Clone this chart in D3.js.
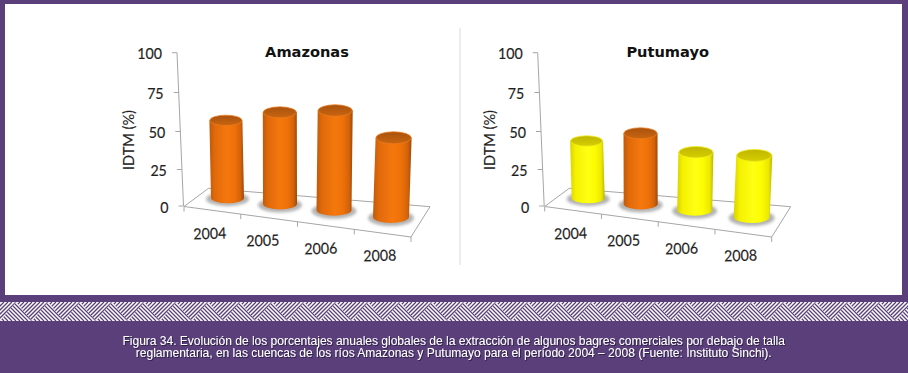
<!DOCTYPE html>
<html>
<head>
<meta charset="utf-8">
<script src="https://cdn.jsdelivr.net/npm/d3@7"></script>
<style>
  html, body { margin: 0; padding: 0; background: #5b3f7b; }
  svg { display: block; }
  .tick-label { font-family: Lato, "Open Sans", sans-serif; font-size: 15.4px; fill: #1f1f1f; stroke: #1f1f1f; stroke-width: 0.2px; }
  .axis-title { font-family: Lato, "Open Sans", sans-serif; font-size: 15.5px; fill: #1f1f1f; stroke: #1f1f1f; stroke-width: 0.15px; }
  .chart-title { font-family: "DejaVu Sans", sans-serif; font-size: 14.6px; font-weight: bold; fill: #111; }
  .caption { font-family: "Liberation Sans", Arial, sans-serif; font-size: 12px; fill: #fff; }
</style>
</head>
<body>
<svg id="chart" width="908" height="373"></svg>
<script>
const years = ['2004', '2005', '2006', '2008'];
const yTicks = [0, 25, 50, 75, 100];
const amazonasValues = [52, 61, 66, 53];
const putumayoValues = [38.5, 47.5, 39, 41.5];
const amazonasColors = ['orange', 'orange', 'orange', 'orange'];
const putumayoColors = ['yellow', 'orange', 'yellow', 'yellow'];
const captionLines = [
  'Figura 34. Evolución de los porcentajes anuales globales de la extracción de algunos bagres comerciales por debajo de talla',
  'reglamentaria, en las cuencas de los ríos Amazonas y Putumayo para el período 2004 – 2008 (Fuente: Instituto Sinchi).'
];

const svg = d3.select('#chart');
const defs = svg.append('defs');

const palette = {
  orange: { stops: ['#c05a0a', '#e0690a', '#f4780e', '#ef7209', '#d4620a', '#9a4a08'], capTop: '#a9520f', capBottom: '#c9650f', rim: '#ea7a20' },
  yellow: { stops: ['#d8d200', '#f4f000', '#ffff14', '#fcfc00', '#ece800', '#bdb600'], capTop: '#bfb600', capBottom: '#d6ce00', rim: '#f4f020' }
};

Object.keys(palette).forEach(name => {
  const grad = defs.append('linearGradient').attr('id', `cyl-${name}`);
  const offsets = [0, 0.15, 0.5, 0.72, 0.9, 1];
  palette[name].stops.forEach((c, i) => {
    grad.append('stop').attr('offset', offsets[i]).attr('stop-color', c);
  });
  const cap = defs.append('linearGradient').attr('id', `cap-${name}`)
    .attr('x1', 0).attr('y1', 0).attr('x2', 0).attr('y2', 1);
  cap.append('stop').attr('offset', 0).attr('stop-color', palette[name].capTop);
  cap.append('stop').attr('offset', 1).attr('stop-color', palette[name].capBottom);
});

const shadowBlur = defs.append('filter').attr('id', 'shadow-blur')
  .attr('x', '-30%').attr('y', '-60%').attr('width', '160%').attr('height', '220%');
shadowBlur.append('feGaussianBlur').attr('stdDeviation', 1.8);

const capShadow = defs.append('filter').attr('id', 'text-shadow')
  .attr('x', '-5%').attr('y', '-30%').attr('width', '110%').attr('height', '160%');
capShadow.append('feDropShadow').attr('dx', 1).attr('dy', 1).attr('stdDeviation', 0.6)
  .attr('flood-color', '#2a1a40').attr('flood-opacity', 0.9);

// zigzag band texture
const tileW = 32;
const tileH = 19;
const tile = defs.append('pattern').attr('id', 'weave')
  .attr('patternUnits', 'userSpaceOnUse')
  .attr('x', 0).attr('y', 302)
  .attr('width', tileW).attr('height', tileH);
tile.append('rect').attr('width', tileW).attr('height', tileH).attr('fill', '#fff');
defs.append('clipPath').attr('id', 'tri-up').append('path')
  .attr('d', `M0,${tileH} L${tileW / 2},0 L${tileW},${tileH} Z`);
const stripeStep = 4;
d3.range(-tileH - tileW, tileW + tileH, stripeStep).forEach(i => {
  tile.append('line').attr('x1', i).attr('y1', tileH).attr('x2', i + tileH).attr('y2', 0)
    .attr('stroke', '#5b3f7b').attr('stroke-width', 1.3);
});
const upper = tile.append('g').attr('clip-path', 'url(#tri-up)');
upper.append('rect').attr('width', tileW).attr('height', tileH).attr('fill', '#fff');
d3.range(-tileH - tileW, tileW + tileH, stripeStep).forEach(i => {
  upper.append('line').attr('x1', i).attr('y1', 0).attr('x2', i + tileH).attr('y2', tileH)
    .attr('stroke', '#5b3f7b').attr('stroke-width', 1.3);
});

// background blocks
svg.append('rect').attr('width', 908).attr('height', 373).attr('fill', '#5b3f7b');
svg.append('rect').attr('x', 5).attr('y', 4).attr('width', 897).attr('height', 291).attr('fill', '#fff');
svg.append('rect').attr('x', 0).attr('y', 302).attr('width', 908).attr('height', tileH).attr('fill', 'url(#weave)');
svg.append('line').attr('x1', 460).attr('x2', 460).attr('y1', 28).attr('y2', 265)
  .attr('stroke', '#d9d9d9').attr('stroke-width', 1);

const drawPanel = (title, values, colors, dx) => {
  const g = svg.append('g').attr('transform', `translate(${dx},0)`);

  // the value axis leans and foreshortens, so both scales are piecewise
  const yScale = d3.scaleLinear().domain(yTicks).range([206, 169.5, 131.5, 92.5, 52.7]);
  const axisX = d3.scaleLinear().domain([0, 100]).range([183.5, 177]);

  // floor positions along the skewed category direction
  const baseX = d3.scaleLinear().domain([0, 1, 2, 3]).range([227.5, 280, 334, 391]);
  const baseY = d3.scaleLinear().domain([0, 1, 2, 3]).range([198, 204, 210, 217]);
  const radiusX = d3.scaleLinear().domain([0, 3]).range([16.5, 18]);
  const radiusY = d3.scaleLinear().domain([0, 3]).range([5.2, 6]);
  const leanX = d3.scaleLinear().domain([0, 3]).range([-1.6, 2.6]);
  const tickX = d3.scaleLinear().domain([0, 4]).range([184, 411]);
  const tickY = d3.scaleLinear().domain([0, 4]).range([206.5, 237]);

  // floor
  const floor = [[184, 206.5], [208.5, 188.3], [430, 206.7], [411, 237]];
  g.append('path').attr('d', d3.line()(floor) + 'Z')
    .attr('fill', '#fff').attr('stroke', '#a6a6a6').attr('stroke-width', 1);

  // value axis
  g.append('line')
    .attr('x1', axisX(0)).attr('y1', yScale(0))
    .attr('x2', axisX(100)).attr('y2', yScale(100))
    .attr('stroke', '#a6a6a6').attr('stroke-width', 1);
  g.selectAll('.y-tick').data(yTicks).enter().append('line')
    .attr('class', 'y-tick')
    .attr('x1', d => axisX(d) - 5).attr('x2', d => axisX(d))
    .attr('y1', d => yScale(d)).attr('y2', d => yScale(d))
    .attr('stroke', '#a6a6a6');
  g.selectAll('.y-label').data(yTicks).enter().append('text')
    .attr('class', 'tick-label y-label')
    .attr('x', d => axisX(d) - 15)
    .attr('y', d => yScale(d) + 6.5)
    .attr('text-anchor', 'end')
    .attr('textLength', d => String(d).length * 8.25)
    .attr('lengthAdjust', 'spacingAndGlyphs')
    .text(d => d);

  // category ticks
  g.selectAll('.x-tick').data(d3.range(0, 5)).enter().append('line')
    .attr('class', 'x-tick')
    .attr('x1', d => tickX(d)).attr('y1', d => tickY(d))
    .attr('x2', d => tickX(d)).attr('y2', d => tickY(d) + 5)
    .attr('stroke', '#a6a6a6');

  const bars = g.selectAll('.bar').data(years).enter().append('g').attr('class', 'bar');
  bars.each(function (year, k) {
    const b = d3.select(this);
    const cx = baseX(k);
    const by = baseY(k);
    const rx = radiusX(k);
    const ry = radiusY(k);
    const topY = by - (yScale(0) - yScale(values[k]));
    const topX = cx + leanX(k);
    const name = colors[k];

    b.append('ellipse').attr('cx', cx).attr('cy', by + 1)
      .attr('rx', rx + 5).attr('ry', ry + 2)
      .attr('fill', '#b4b4b4').attr('filter', 'url(#shadow-blur)');
    b.append('path')
      .attr('d', `M${topX - rx},${topY} L${cx - rx},${by} A${rx},${ry} 0 0 0 ${cx + rx},${by} L${topX + rx},${topY} Z`)
      .attr('fill', `url(#cyl-${name})`);
    b.append('ellipse').attr('cx', topX).attr('cy', topY)
      .attr('rx', rx - 0.4).attr('ry', ry)
      .attr('fill', `url(#cap-${name})`)
      .attr('stroke', palette[name].rim).attr('stroke-width', 0.8);
  });

  // category labels
  const labelX = d3.scaleLinear().domain([0, 1, 2, 3]).range([210, 263, 321, 380]);
  const labelY = d3.scaleLinear().domain([0, 1, 2, 3]).range([239, 246, 254, 261]);
  g.selectAll('.x-label').data(years).enter().append('text')
    .attr('class', 'tick-label x-label')
    .attr('text-anchor', 'middle')
    .attr('textLength', 33)
    .attr('lengthAdjust', 'spacingAndGlyphs')
    .attr('transform', (d, i) => `translate(${labelX(i)},${labelY(i)}) rotate(-2)`)
    .text(d => d);

  g.append('text').attr('class', 'axis-title')
    .attr('text-anchor', 'middle')
    .attr('textLength', 60)
    .attr('lengthAdjust', 'spacingAndGlyphs')
    .attr('transform', 'translate(134,140) rotate(-90)')
    .text('IDTM (%)');

  g.append('text').attr('class', 'chart-title')
    .attr('x', 307).attr('y', 57).attr('text-anchor', 'middle')
    .text(title);
};

drawPanel('Amazonas', amazonasValues, amazonasColors, 0);
drawPanel('Putumayo', putumayoValues, putumayoColors, 360.7);

svg.selectAll('.caption').data(captionLines).enter().append('text')
  .attr('class', 'caption')
  .attr('x', 453.7)
  .attr('y', (d, i) => 345 + i * 11.5)
  .attr('text-anchor', 'middle')
  .attr('filter', 'url(#text-shadow)')
  .text(d => d);
</script>
</body>
</html>
